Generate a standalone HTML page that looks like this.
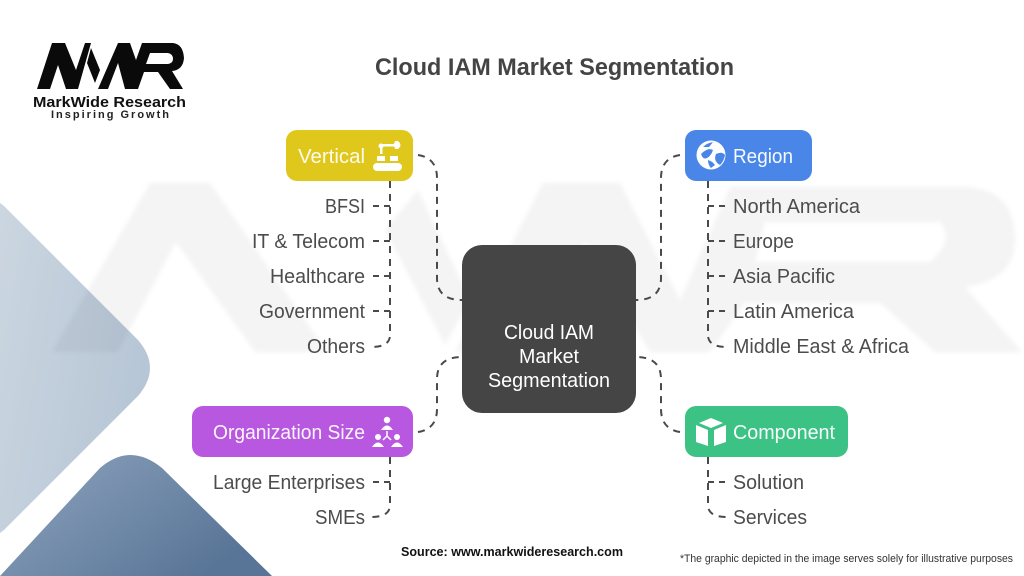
<!DOCTYPE html>
<html><head><meta charset="utf-8">
<style>
html,body{margin:0;padding:0;background:#fff}
svg{display:block}
text{font-family:"Liberation Sans",sans-serif}
.l{font-size:20px;fill:#4c4c4e}
.h{font-size:20px;fill:#fff}
.d{fill:none;stroke:#4a4a4a;stroke-width:2;stroke-dasharray:7 6}
</style></head>
<body>
<svg width="1024" height="576" viewBox="0 0 1024 576" xmlns="http://www.w3.org/2000/svg">
<defs>
<linearGradient id="a" x1="0" y1="0" x2="1" y2="0.4"><stop offset="0" stop-color="#cbd6e0"/><stop offset="1" stop-color="#b7c6d6"/></linearGradient>
<linearGradient id="b" x1="0" y1="0" x2="1" y2="0.6"><stop offset="0" stop-color="#8fa5bf"/><stop offset="1" stop-color="#587496"/></linearGradient>
<filter id="bl"><feGaussianBlur stdDeviation="2"/></filter>
</defs>
<rect width="1024" height="576" fill="#fff"/>
<path d="M0 203 L4 206 L138 340 Q162 368 138 396 L4 530 L0 533 Z" fill="url(#a)"/>
<path d="M0 576 L100 468 Q130 442 162 468 L272 576 Z" fill="url(#b)"/>
<!-- watermark -->
<g fill="#000" fill-opacity=".045" filter="url(#bl)" fill-rule="evenodd">
<path d="M52 352 L150 183 L210 183 L327 352 L255 352 L176 242 L118 352 Z"/>
<path d="M418 190 L470 300 L445 345 L385 230 Z"/>
<path d="M455 352 L543 183 L620 183 L680 300 L730 187 L967 187 Q1015 190 1015 240 Q1015 280 965 287 L1022 352 L935 352 L880 303 L745 303 L710 352 L650 352 L585 242 L525 352 Z M765 222 L940 222 Q955 240 930 262 L755 262 Z"/>
</g>
<!-- logo -->
<g fill="#0a0a0a" fill-rule="evenodd">
<path d="M37 89 L52 43 L65 43 L76 70 L85 43 L91 43 L78 89 L66 89 L58 65 L50 89 Z"/>
<path d="M91 48 L100 70 L95 83 L87 63 Z"/>
<path d="M98 89 L118 43 L130 43 L136 60 L142 43 L173 43 Q183 44 184 58 Q183 70 172 71 L183 89 L170 89 L158 72 L144 72 L138 89 L125 89 L118 63 L108 89 Z M150 53 L168 53 Q173 54 173 59 Q173 63 168 64 L146 64 Z"/>
</g>
<text x="33" y="107" font-size="15" font-weight="bold" fill="#111" textLength="153" lengthAdjust="spacingAndGlyphs">MarkWide Research</text>
<text x="51" y="118" font-size="11" font-weight="bold" fill="#222" textLength="118" lengthAdjust="spacing">Inspiring Growth</text>
<text x="375" y="75" font-size="24" font-weight="bold" fill="#444" textLength="359" lengthAdjust="spacingAndGlyphs">Cloud IAM Market Segmentation</text>
<!-- connectors -->
<path class="d" d="M418 155 Q437 158 437 178 V278 Q437 300 462 300"/>
<path class="d" d="M680 155 Q661 158 661 178 V278 Q661 300 636 300"/>
<path class="d" d="M418 432 Q437 429 437 409 V379 Q437 357 462 357"/>
<path class="d" d="M680 432 Q661 429 661 409 V379 Q661 357 636 357"/>
<path class="d" d="M390 181 V335 Q390 347 371 347"/>
<path class="d" d="M708 181 V335 Q708 347 727 347"/>
<path class="d" d="M390 457 V505 Q390 517 371 517"/>
<path class="d" d="M708 457 V505 Q708 517 727 517"/>
<path d="M373 206H390M373 241H390M373 276H390M373 311H390M373 482H390M708 206H726M708 241H726M708 276H726M708 311H726M708 482H726" fill="none" stroke="#4a4a4a" stroke-width="2" stroke-dasharray="6 5"/>
<!-- nodes -->
<rect x="462" y="245" width="174" height="168" rx="20" fill="#454545"/>
<text x="549" y="339" class="h" text-anchor="middle" textLength="90" lengthAdjust="spacingAndGlyphs">Cloud IAM</text>
<text x="549" y="363" class="h" text-anchor="middle" textLength="60" lengthAdjust="spacingAndGlyphs">Market</text>
<text x="549" y="387" class="h" text-anchor="middle" textLength="122" lengthAdjust="spacingAndGlyphs">Segmentation</text>
<rect x="286" y="130" width="127" height="51" rx="11" fill="#dfc71b"/>
<rect x="685" y="130" width="127" height="51" rx="11" fill="#4a86e8"/>
<rect x="192" y="406" width="221" height="51" rx="11" fill="#b857e0"/>
<rect x="685" y="406" width="163" height="51" rx="11" fill="#3dc285"/>
<text x="298" y="163" class="h" fill-opacity=".92" textLength="67" lengthAdjust="spacingAndGlyphs">Vertical</text>
<text x="733" y="163" class="h" fill-opacity=".95" textLength="60" lengthAdjust="spacingAndGlyphs">Region</text>
<text x="213" y="439" class="h" fill-opacity=".95" textLength="152" lengthAdjust="spacingAndGlyphs">Organization Size</text>
<text x="733" y="439" class="h" fill-opacity=".95" textLength="102" lengthAdjust="spacingAndGlyphs">Component</text>
<!-- icons -->
<g fill="#fff">
<rect x="373" y="163" width="29" height="8" rx="4"/>
<rect x="377" y="156" width="8" height="5"/><rect x="390" y="156" width="8" height="5"/>
<rect x="381" y="144" width="16" height="2.5"/><circle cx="381" cy="146" r="2.5"/><circle cx="397" cy="145" r="3.5"/>
<rect x="395" y="141" width="3.5" height="8"/><rect x="380" y="147" width="2.5" height="7"/>
</g>
<circle cx="711" cy="155" r="14.5" fill="#fff"/>
<g fill="#4a86e8"><path d="M701 154 Q708 147 713 150 Q711 156 707 158 Q703 160 701 154Z"/><path d="M716 154 Q722 151 725 155 Q724 161 720 165 Q713 161 716 154Z"/><path d="M703 147 Q707 143 713 142 L709 147Z"/><path d="M708 160 Q712 161 715 165 L711 168 Q708 165 708 160Z"/></g>
<g fill="#fff">
<circle cx="387" cy="420" r="3.2"/><path d="M381 430 Q387 421 393 430Z"/>
<circle cx="378" cy="437" r="3"/><path d="M372 447 Q378 438 384 447Z"/>
<circle cx="397" cy="437" r="3"/><path d="M391 447 Q397 438 403 447Z"/>
<path d="M387 431V436M387 436L383 440M387 436L391 440" stroke="#fff" stroke-width="1.5" fill="none"/>
<path d="M711 418 L723 423 L711 428 L699 423Z"/><path d="M696 425 L708 430 V446 L696 442Z"/><path d="M726 425 L714 430 V446 L726 442Z"/>
</g>
<!-- labels -->
<g class="l" text-anchor="end">
<text x="365" y="213" class="l" textLength="40" lengthAdjust="spacingAndGlyphs">BFSI</text>
<text x="365" y="248" class="l" textLength="113" lengthAdjust="spacingAndGlyphs">IT &amp; Telecom</text>
<text x="365" y="283" class="l" textLength="95" lengthAdjust="spacingAndGlyphs">Healthcare</text>
<text x="365" y="318" class="l" textLength="106" lengthAdjust="spacingAndGlyphs">Government</text>
<text x="365" y="353" class="l" textLength="58" lengthAdjust="spacingAndGlyphs">Others</text>
<text x="365" y="489" class="l" textLength="152" lengthAdjust="spacingAndGlyphs">Large Enterprises</text>
<text x="365" y="524" class="l" textLength="50" lengthAdjust="spacingAndGlyphs">SMEs</text>
</g>
<text x="733" y="213" class="l" textLength="127" lengthAdjust="spacingAndGlyphs">North America</text>
<text x="733" y="248" class="l" textLength="61" lengthAdjust="spacingAndGlyphs">Europe</text>
<text x="733" y="283" class="l" textLength="102" lengthAdjust="spacingAndGlyphs">Asia Pacific</text>
<text x="733" y="318" class="l" textLength="121" lengthAdjust="spacingAndGlyphs">Latin America</text>
<text x="733" y="353" class="l" textLength="176" lengthAdjust="spacingAndGlyphs">Middle East &amp; Africa</text>
<text x="733" y="489" class="l" textLength="71" lengthAdjust="spacingAndGlyphs">Solution</text>
<text x="733" y="524" class="l" textLength="74" lengthAdjust="spacingAndGlyphs">Services</text>
<text x="401" y="556" font-size="13" font-weight="bold" fill="#111" textLength="222" lengthAdjust="spacingAndGlyphs">Source: www.markwideresearch.com</text>
<text x="680" y="562" font-size="11" fill="#333" textLength="333" lengthAdjust="spacingAndGlyphs">*The graphic depicted in the image serves solely for illustrative purposes</text>
</svg>
</body></html>
